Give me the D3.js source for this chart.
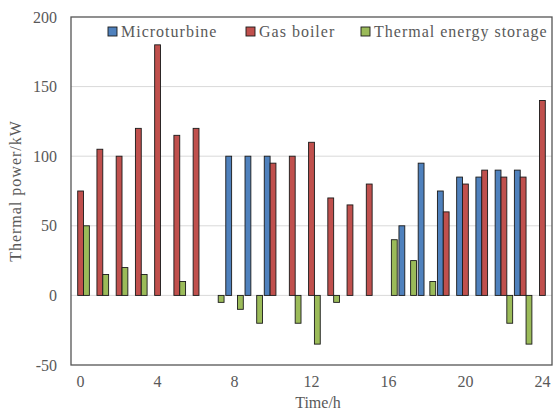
<!DOCTYPE html>
<html>
<head>
<meta charset="utf-8">
<script src="https://cdn.jsdelivr.net/npm/d3@7"></script>
<style>
  body { margin: 0; background: #fff; }
  text { font-family: "Liberation Serif", "Times New Roman", serif; fill: #595959; }
</style>
</head>
<body>
<svg id="chart" width="553" height="416"></svg>
<script>
// hours 0..24
const hours = d3.range(0, 25);
const microturbine = [0,0,0,0,0,0,0,0,100,100,100,0,0,0,0,0,0,50,95,75,85,85,90,90,0];
const gasBoiler    = [75,105,100,120,180,115,120,0,0,0,95,100,110,70,65,80,0,0,0,60,80,90,85,85,140];
const storage      = [50,15,20,15,0,10,0,-5,-10,-20,0,-20,-35,-5,0,0,40,25,10,0,0,0,-20,-35,0];
const seriesNames  = ["Microturbine", "Gas boiler", "Thermal energy storage"];
const colors       = ["#4f81bd", "#c0504d", "#9bbb59"];
const yTicks       = [-50, 0, 50, 100, 150, 200];
const xTickLabels  = [0, 4, 8, 12, 16, 20, 24];

const svg = d3.select("#chart");
const plotL = 71, plotR = 552, plotT = 17, plotB = 365;

const x = d3.scaleBand().domain(hours).range([plotL, plotR]).paddingInner(0.09).paddingOuter(0.045);
const sub = d3.scaleBand().domain(seriesNames).range([0, x.bandwidth()]);
const y = d3.scaleLinear().domain([-50, 200]).range([plotB, plotT]);

// gridlines
svg.append("g")
  .selectAll("line")
  .data(yTicks.filter(d => d > -50 && d < 200))
  .join("line")
  .attr("x1", plotL).attr("x2", plotR)
  .attr("y1", d => y(d)).attr("y2", d => y(d))
  .attr("stroke", "#d9d9d9").attr("stroke-width", 1);

// bars
const series = [microturbine, gasBoiler, storage];
const rows = [];
series.forEach((vals, si) => {
  vals.forEach((v, i) => {
    if (v !== 0) rows.push({ hour: hours[i], name: seriesNames[si], value: v, color: colors[si] });
  });
});

svg.append("g")
  .selectAll("rect")
  .data(rows)
  .join("rect")
  .attr("x", d => x(d.hour) + sub(d.name))
  .attr("width", sub.bandwidth())
  .attr("y", d => y(Math.max(0, d.value)))
  .attr("height", d => Math.abs(y(d.value) - y(0)))
  .attr("fill", d => d.color)
  .attr("stroke", "#1a1a1a")
  .attr("stroke-width", 0.9);

// plot frame
svg.append("rect")
  .attr("x", plotL).attr("y", plotT)
  .attr("width", plotR - plotL).attr("height", plotB - plotT)
  .attr("fill", "none").attr("stroke", "#555").attr("stroke-width", 1.3);

// y axis labels (hyphen for negatives, like the original)
const yAxis = svg.append("g")
  .attr("transform", `translate(${plotL},0)`)
  .call(d3.axisLeft(y).tickValues(yTicks).tickSize(0).tickPadding(14)
    .tickFormat(d => String(d)));
yAxis.select(".domain").remove();
yAxis.selectAll("text").style("font-size", "16px");

// x axis labels
const xAxis = svg.append("g")
  .attr("transform", `translate(0,${plotB})`)
  .call(d3.axisBottom(x).tickValues(xTickLabels).tickSize(0).tickPadding(11));
xAxis.select(".domain").remove();
xAxis.selectAll("text").style("font-size", "16px");

// axis titles
svg.append("text")
  .attr("x", 318).attr("y", 408)
  .attr("text-anchor", "middle")
  .style("font-size", "16px")
  .text("Time/h");

svg.append("text")
  .attr("transform", `translate(21,${(plotT + plotB) / 2}) rotate(-90)`)
  .attr("text-anchor", "middle")
  .style("font-size", "16px")
  .style("letter-spacing", "1px")
  .text("Thermal power/kW");

// legend
const legendX = [108, 246, 361];
const legend = svg.append("g")
  .selectAll("g")
  .data(seriesNames)
  .join("g")
  .attr("transform", (d, i) => `translate(${legendX[i]},27)`);
legend.append("rect")
  .attr("width", 9).attr("height", 9)
  .attr("fill", (d, i) => colors[i])
  .attr("stroke", "#1a1a1a").attr("stroke-width", 0.9);
legend.append("text")
  .attr("x", 13).attr("y", 10)
  .style("font-size", "16px")
  .style("letter-spacing", "1px")
  .text(d => d);
</script>
</body>
</html>
